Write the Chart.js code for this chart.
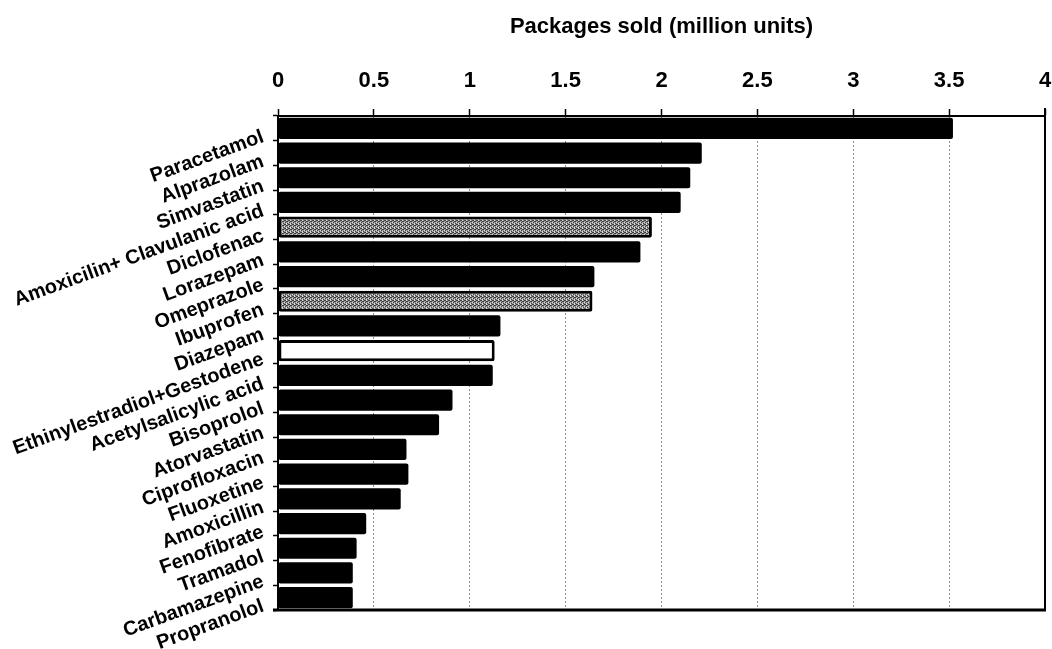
<!DOCTYPE html>
<html>
<head>
<meta charset="utf-8">
<title>Packages sold</title>
<script src="https://cdn.jsdelivr.net/npm/chart.js@4.4.1/dist/chart.umd.min.js"></script>
<style>
  html, body { margin: 0; padding: 0; background: #ffffff; }
  #wrap { width: 1052px; height: 649px; }
</style>
</head>
<body>
<div id="wrap"><canvas id="chart" width="1052" height="649"></canvas></div>
<script>
// Drug names, top to bottom
const drugs = [
  'Paracetamol', 'Alprazolam', 'Simvastatin', 'Amoxicilin+ Clavulanic acid',
  'Diclofenac', 'Lorazepam', 'Omeprazole', 'Ibuprofen', 'Diazepam',
  'Ethinylestradiol+Gestodene', 'Acetylsalicylic acid', 'Bisoprolol',
  'Atorvastatin', 'Ciprofloxacin', 'Fluoxetine', 'Amoxicillin',
  'Fenofibrate', 'Tramadol', 'Carbamazepine', 'Propranolol'
];

// Packages sold, million units
const packagesSold = [
  3.52, 2.21, 2.15, 2.10, 1.95, 1.89, 1.65, 1.64, 1.16, 1.13,
  1.12, 0.91, 0.84, 0.67, 0.68, 0.64, 0.46, 0.41, 0.39, 0.39
];

// Value axis tick labels
const valueTicks = [0, 0.5, 1, 1.5, 2, 2.5, 3, 3.5, 4];

// Bars drawn with a dithered grey fill, and the one drawn hollow
const greyBars = ['Diclofenac', 'Ibuprofen'];
const hollowBars = ['Ethinylestradiol+Gestodene'];

Chart.defaults.font.family = '"Liberation Sans", Arial, Helvetica, sans-serif';
Chart.defaults.color = '#000';

// Small dithered grey tile used as a fill pattern
function ditherPattern() {
  const c = document.createElement('canvas');
  c.width = 4; c.height = 4;
  const g = c.getContext('2d');
  g.fillStyle = '#9a9a9a';
  g.fillRect(0, 0, 4, 4);
  g.fillStyle = '#3c3c3c';
  [[0, 0], [2, 1], [1, 2], [3, 3], [3, 1], [1, 0]].forEach(([x, y]) => g.fillRect(x, y, 1, 1));
  g.fillStyle = '#dcdcdc';
  [[2, 3], [0, 2], [2, 0]].forEach(([x, y]) => g.fillRect(x, y, 1, 1));
  return g.createPattern(c, 'repeat');
}
const grey = ditherPattern();

const fills = drugs.map(d => greyBars.includes(d) ? grey : hollowBars.includes(d) ? '#ffffff' : '#000000');
const borders = drugs.map(d => (greyBars.includes(d) || hollowBars.includes(d)) ? 3 : 0);

// Right and bottom edges of the plot frame
const frame = {
  id: 'frame',
  afterDatasetsDraw(chart) {
    const { ctx, chartArea: a } = chart;
    ctx.save();
    ctx.strokeStyle = '#000';
    ctx.lineWidth = 2;
    ctx.beginPath();
    ctx.moveTo(a.right, a.top - 8);
    ctx.lineTo(a.right, a.bottom);
    ctx.stroke();
    ctx.lineWidth = 3;
    ctx.beginPath();
    ctx.moveTo(a.left - 5, a.bottom);
    ctx.lineTo(a.right + 1, a.bottom);
    ctx.stroke();
    ctx.restore();
  }
};

new Chart(document.getElementById('chart'), {
  type: 'bar',
  data: {
    labels: drugs,
    datasets: [{
      data: packagesSold,
      backgroundColor: fills,
      borderColor: '#000',
      borderWidth: borders,
      borderSkipped: false,
      borderRadius: 2,
      barPercentage: 0.86,
      categoryPercentage: 1
    }]
  },
  options: {
    indexAxis: 'y',
    responsive: false,
    animation: false,
    devicePixelRatio: 1,
    layout: { padding: { left: 0, right: 7, top: 0, bottom: 39 } },
    plugins: {
      legend: { display: false },
      tooltip: { enabled: false },
      title: { display: false }
    },
    scales: {
      x: {
        type: 'linear',
        position: 'top',
        min: 0,
        max: 4,
        afterFit(scale) {
          scale.height = 116;
          scale.paddingLeft = 0;
          scale.paddingRight = 0;
        },
        afterBuildTicks(scale) { scale.ticks = valueTicks.map(v => ({ value: v })); },
        title: {
          display: true,
          text: 'Packages sold (million units)',
          color: '#000',
          font: { size: 22, weight: 'bold', lineHeight: 1 },
          padding: { top: 16, bottom: 0 }
        },
        ticks: {
          color: '#000',
          padding: 15,
          maxRotation: 0,
          font: { size: 22, weight: 'bold' },
          callback: v => String(v)
        },
        grid: {
          color: '#8c8c8c',
          lineWidth: 1,
          drawTicks: true,
          tickLength: 7,
          tickColor: '#000',
          tickWidth: 1.5
        },
        border: { display: true, color: '#000', width: 2, dash: [2, 2] }
      },
      y: {
        type: 'category',
        afterFit(scale) {
          scale.width = 278;
          scale.paddingTop = 0;
          scale.paddingBottom = 0;
        },
        ticks: {
          color: '#000',
          autoSkip: false,
          minRotation: 20,
          maxRotation: 20,
          padding: 10,
          labelOffset: 8,
          font: { size: 20, weight: 'bold' }
        },
        grid: {
          drawOnChartArea: false,
          drawTicks: true,
          tickLength: 5,
          tickColor: '#000',
          tickWidth: 1.5
        },
        border: { display: true, color: '#000', width: 2 }
      }
    }
  },
  plugins: [frame]
});
</script>
</body>
</html>
